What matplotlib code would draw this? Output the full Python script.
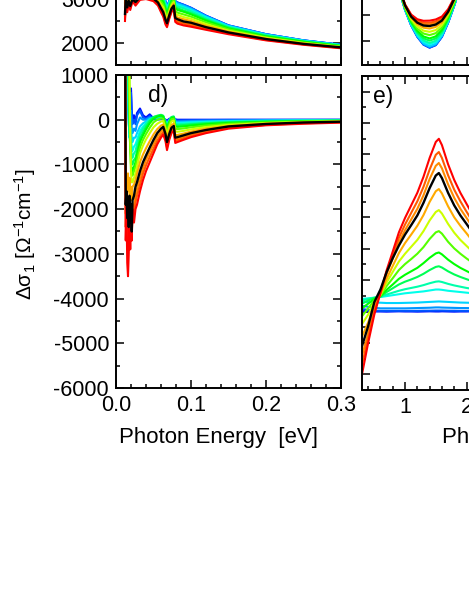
import matplotlib
matplotlib.use("Agg")
import matplotlib.pyplot as plt
from matplotlib.ticker import MultipleLocator, FormatStrFormatter, NullFormatter

plt.rcParams['font.family'] = ['Liberation Sans', 'DejaVu Sans']
plt.rcParams['mathtext.fontset'] = 'custom'
plt.rcParams['mathtext.rm'] = 'Liberation Sans'
plt.rcParams['mathtext.it'] = 'Liberation Sans:italic'
plt.rcParams['mathtext.sf'] = 'Liberation Sans'
plt.rcParams['axes.unicode_minus'] = False

# ---------------- data ----------------
# 15 spectra, ordered from weakest (blue) to strongest (red); index 11 is the black one
curve_colors = ['#0010ff', '#0055ff', '#0095ff', '#00d4ff', '#00ffea', '#00ffaa', '#00ff55',
                '#00ff00', '#55ff00', '#ccff00', '#ffaa00', '#000000', '#ff8c00', '#ff5a00', '#ff0000']
black_index = 11

# panel a (top left, sigma_1, low energy) -- only lower part visible
energy_a = [0.012, 0.013, 0.015, 0.017, 0.019, 0.022, 0.026, 0.032, 0.040, 0.050, 0.056, 0.060, 0.063,
            0.066, 0.068, 0.071, 0.074, 0.077, 0.079, 0.082, 0.090, 0.100, 0.120, 0.150, 0.200, 0.250, 0.300]
a_c0 = [3300, 3300, 3250, 3200, 3200, 3200, 3250, 3300, 3300, 3250, 3200, 3150, 3100, 2950, 2820, 2950, 3080, 3150, 2950, 2920, 2870, 2800, 2620, 2400, 2200, 2060, 1960]
a_c1 = [3290, 3300, 3240, 3200, 3200, 3200, 3250, 3300, 3300, 3250, 3200, 3150, 3100, 2940, 2820, 2950, 3080, 3150, 2950, 2920, 2870, 2800, 2620, 2400, 2200, 2060, 1960]
a_c2 = [3280, 3290, 3230, 3190, 3190, 3190, 3240, 3290, 3290, 3240, 3190, 3140, 3080, 2930, 2810, 2940, 3070, 3140, 2940, 2910, 2860, 2790, 2610, 2390, 2200, 2060, 1960]
a_c3 = [3240, 3280, 3210, 3180, 3170, 3180, 3220, 3280, 3280, 3230, 3180, 3120, 3070, 2910, 2790, 2920, 3050, 3120, 2920, 2890, 2840, 2770, 2600, 2390, 2190, 2050, 1950]
a_c4 = [3200, 3260, 3180, 3160, 3140, 3170, 3200, 3260, 3260, 3210, 3160, 3090, 3040, 2880, 2760, 2900, 3030, 3100, 2890, 2860, 2810, 2740, 2580, 2370, 2180, 2050, 1950]
a_c5 = [3160, 3240, 3150, 3150, 3120, 3160, 3180, 3240, 3250, 3200, 3140, 3070, 3010, 2860, 2740, 2880, 3010, 3080, 2870, 2830, 2790, 2720, 2560, 2360, 2180, 2040, 1950]
a_c6 = [3080, 3200, 3100, 3120, 3080, 3130, 3140, 3210, 3220, 3170, 3110, 3030, 2970, 2810, 2700, 2840, 2980, 3050, 2820, 2790, 2740, 2680, 2530, 2350, 2160, 2030, 1940]
a_c7 = [3020, 3180, 3060, 3100, 3040, 3110, 3110, 3190, 3200, 3150, 3080, 2990, 2930, 2760, 2660, 2810, 2950, 3020, 2790, 2750, 2710, 2650, 2510, 2330, 2150, 2030, 1930]
a_c8 = [2920, 3140, 2990, 3060, 2990, 3080, 3060, 3150, 3160, 3110, 3040, 2940, 2870, 2700, 2600, 2760, 2900, 2980, 2730, 2690, 2650, 2600, 2470, 2310, 2130, 2010, 1920]
a_c9 = [2830, 3090, 2930, 3020, 2930, 3050, 3010, 3110, 3120, 3070, 2990, 2880, 2810, 2640, 2550, 2710, 2860, 2930, 2670, 2640, 2590, 2550, 2430, 2280, 2120, 2000, 1910]
a_c10 = [2730, 3050, 2860, 2990, 2880, 3020, 2970, 3070, 3090, 3040, 2950, 2830, 2750, 2570, 2490, 2670, 2810, 2890, 2620, 2580, 2540, 2500, 2390, 2260, 2100, 1990, 1900]
a_c11 = [2660, 3020, 2810, 2960, 2840, 3000, 2930, 3040, 3060, 3010, 2920, 2790, 2700, 2530, 2450, 2630, 2780, 2850, 2570, 2540, 2490, 2460, 2360, 2240, 2090, 1980, 1900]
a_c12 = [2610, 3000, 2780, 2940, 2810, 2990, 2910, 3030, 3040, 2990, 2900, 2760, 2670, 2490, 2420, 2610, 2750, 2830, 2550, 2510, 2470, 2430, 2350, 2230, 2080, 1970, 1890]
a_c13 = [2560, 2980, 2740, 2920, 2790, 2970, 2880, 3010, 3020, 2970, 2880, 2740, 2640, 2460, 2400, 2580, 2730, 2810, 2520, 2480, 2440, 2400, 2330, 2220, 2070, 1970, 1890]
a_c14 = [2500, 2950, 2700, 2900, 2750, 2950, 2850, 2980, 3000, 2950, 2850, 2700, 2600, 2420, 2360, 2550, 2700, 2780, 2480, 2440, 2400, 2370, 2300, 2200, 2060, 1960, 1880]

# panel d (bottom left, delta sigma_1, low energy)
energy_d = [0.012, 0.013, 0.014, 0.015, 0.016, 0.017, 0.018, 0.019, 0.020, 0.021, 0.022, 0.024, 0.026, 0.028,
            0.032, 0.036, 0.040, 0.045, 0.050, 0.055, 0.060, 0.063, 0.066, 0.068, 0.071, 0.074, 0.077, 0.079,
            0.082, 0.090, 0.100, 0.120, 0.150, 0.200, 0.250, 0.300]
d_c0 = [3000, 3000, 2500, 1500, 800, 300, 100, 500, 700, 200, 0, 100, -50, 150, 250, 100, 50, 120, 30, 20, 30, 40, 0, -20, 20, 40, 50, 10, 0, 0, 0, 0, 0, 0, 0, 0]
d_c1 = [3000, 3000, 2000, 1200, 500, 200, 0, 300, 600, 100, -100, 0, -100, 100, 200, 50, 20, 80, 10, 0, 10, 20, -20, -40, 0, 20, 30, -10, -20, -15, -10, -8, -5, -5, -3, -3]
d_c2 = [3000, 3000, 2500, 1000, 300, -100, -300, 0, 200, -200, -300, -200, -250, -100, 50, 0, 0, 50, 30, 20, 40, 40, -30, -70, -10, 30, 40, -30, -40, -35, -30, -25, -18, -12, -8, -6]
d_c3 = [3000, 3000, 3000, 2000, 600, 0, -400, -300, -200, -400, -500, -400, -400, -300, -150, -80, -40, 20, 40, 40, 50, 40, -50, -100, -20, 40, 50, -50, -60, -55, -50, -40, -30, -20, -14, -10]
d_c4 = [3000, 3000, 3000, 2500, 1000, 200, -300, -500, -400, -600, -700, -600, -550, -450, -250, -150, -80, 0, 50, 60, 80, 60, -50, -120, -20, 50, 60, -70, -80, -75, -65, -50, -38, -26, -18, -14]
d_c5 = [3000, 3000, 3000, 3000, 1500, 400, -300, -600, -600, -800, -850, -750, -700, -550, -320, -200, -100, 0, 60, 80, 100, 80, -60, -140, -30, 60, 70, -90, -100, -95, -85, -65, -48, -32, -22, -17]
d_c6 = [3000, 3000, 3000, 3000, 2500, 800, 0, -700, -800, -1000, -1000, -900, -850, -700, -420, -280, -160, -30, 60, 90, 110, 90, -80, -170, -40, 60, 70, -120, -130, -120, -105, -80, -58, -40, -28, -21]
d_c7 = [3000, 3000, 3000, 3000, 3000, 1500, 300, -600, -1000, -1100, -1150, -1050, -950, -800, -500, -350, -220, -80, 20, 70, 90, 70, -100, -200, -60, 40, 50, -150, -160, -150, -130, -100, -72, -48, -33, -25]
d_c8 = [3000, 3000, 3000, 3000, 3000, 2000, 500, -400, -1100, -1200, -1250, -1150, -1050, -900, -620, -450, -320, -180, -60, 0, 30, 20, -150, -260, -100, 10, 20, -200, -210, -195, -170, -130, -92, -60, -41, -30]
d_c9 = [3000, 3000, 3000, 3000, 3000, 2500, 800, -300, -1200, -1400, -1400, -1300, -1200, -1050, -750, -580, -440, -300, -170, -90, -40, -30, -200, -330, -160, -40, -20, -260, -270, -250, -215, -165, -115, -75, -50, -36]
d_c10 = [3000, -1500, -1300, -1700, -1200, -1600, -1300, -1700, -1500, -1800, -1500, -1450, -1350, -1200, -950, -780, -640, -480, -330, -210, -130, -110, -270, -430, -260, -120, -90, -340, -340, -310, -265, -200, -140, -90, -60, -42]
d_c11 = [3000, -1900, -1600, -2200, -1800, -2400, -1700, -2300, -1900, -2500, -1800, -1700, -1500, -1400, -1150, -950, -800, -620, -450, -300, -200, -160, -320, -500, -320, -180, -140, -400, -390, -350, -300, -230, -150, -95, -62, -45]
d_c12 = [3000, -2100, -1800, -2500, -2000, -2600, -1900, -2500, -2000, -2600, -1900, -1900, -1700, -1550, -1300, -1080, -900, -720, -550, -380, -270, -220, -380, -560, -370, -220, -180, -440, -430, -385, -330, -255, -165, -105, -70, -50]
d_c13 = [3000, -2400, -1900, -2900, -2200, -2800, -2000, -2700, -2000, -2700, -1900, -2100, -1850, -1700, -1450, -1200, -1020, -830, -650, -470, -340, -280, -430, -620, -410, -260, -210, -480, -465, -415, -355, -275, -180, -115, -80, -57]
d_c14 = [3000, -2700, -2000, -3200, -3500, -3000, -2200, -2900, -2100, -2700, -2000, -2300, -2000, -1900, -1600, -1350, -1150, -950, -750, -550, -400, -330, -480, -680, -450, -300, -250, -520, -500, -450, -390, -300, -200, -125, -90, -65]

# panel b (top right, sigma_1 near the minimum) -- only lower part visible
energy_b = [0.8, 0.9, 1.0, 1.1, 1.2, 1.3, 1.4, 1.5, 1.6, 1.7, 1.8, 1.9, 2.0, 2.1]
b_c0 = [2400, 2000, 1600, 1300, 1080, 930, 871, 920, 1080, 1350, 1680, 2050, 2450, 2850]
b_c1 = [2400, 2000, 1601, 1301, 1082, 933, 874, 923, 1082, 1352, 1681, 2050, 2450, 2850]
b_c2 = [2401, 2001, 1602, 1305, 1088, 941, 883, 931, 1089, 1356, 1684, 2052, 2451, 2850]
b_c3 = [2402, 2003, 1606, 1312, 1100, 956, 901, 949, 1103, 1365, 1689, 2055, 2452, 2851]
b_c4 = [2403, 2007, 1613, 1326, 1123, 988, 937, 983, 1130, 1383, 1700, 2060, 2455, 2853]
b_c5 = [2405, 2009, 1618, 1336, 1139, 1010, 962, 1006, 1148, 1396, 1707, 2064, 2457, 2854]
b_c6 = [2407, 2014, 1627, 1354, 1168, 1050, 1007, 1049, 1182, 1418, 1721, 2070, 2461, 2855]
b_c7 = [2409, 2018, 1636, 1371, 1196, 1087, 1049, 1089, 1214, 1439, 1733, 2077, 2464, 2857]
b_c8 = [2412, 2024, 1648, 1397, 1237, 1143, 1113, 1150, 1262, 1471, 1753, 2086, 2469, 2860]
b_c9 = [2415, 2031, 1661, 1422, 1278, 1198, 1176, 1210, 1309, 1503, 1772, 2096, 2474, 2862]
b_c10 = [2418, 2037, 1674, 1448, 1320, 1255, 1240, 1271, 1357, 1535, 1791, 2105, 2480, 2865]
b_c11 = [2421, 2042, 1683, 1467, 1351, 1297, 1288, 1316, 1393, 1559, 1805, 2113, 2483, 2867]
b_c12 = [2422, 2045, 1689, 1479, 1371, 1323, 1318, 1345, 1415, 1574, 1814, 2117, 2486, 2868]
b_c13 = [2424, 2048, 1696, 1492, 1392, 1352, 1351, 1376, 1440, 1590, 1824, 2122, 2488, 2869]
b_c14 = [2426, 2052, 1704, 1508, 1418, 1388, 1391, 1414, 1470, 1610, 1836, 2128, 2492, 2871]

# panel e (bottom right, delta sigma_1, high energy)
energy_e = [0.3, 0.4, 0.5, 0.6, 0.7, 0.8, 0.9, 1.0, 1.1, 1.2, 1.3, 1.4, 1.5, 1.55, 1.6, 1.7, 1.8, 1.9, 2.0, 2.1, 2.2]
e_c0 = [20, 10, 0, 0, -5, 0, 5, 0, 0, -5, 0, 5, 0, 0, 5, 0, -5, 0, 0, 5, 0]
e_c1 = [80, 50, 30, 20, 20, 20, 20, 20, 20, 20, 25, 25, 30, 30, 30, 25, 25, 20, 20, 20, 20]
e_c2 = [180, 150, 120, 100, 100, 100, 100, 100, 105, 110, 115, 120, 130, 130, 125, 120, 115, 110, 110, 105, 100]
e_c3 = [300, 300, 290, 280, 270, 270, 270, 275, 280, 285, 295, 305, 315, 320, 315, 305, 295, 285, 280, 275, 270]
e_c4 = [400, 420, 440, 460, 490, 520, 550, 580, 600, 620, 640, 670, 700, 700, 690, 660, 640, 620, 600, 580, 570]
e_c5 = [350, 400, 440, 470, 540, 600, 660, 710, 750, 790, 840, 900, 950, 960, 940, 880, 830, 790, 750, 720, 680]
e_c6 = [250, 350, 430, 480, 620, 740, 860, 950, 1020, 1100, 1200, 1320, 1420, 1440, 1400, 1280, 1180, 1100, 1030, 960, 910]
e_c7 = [100, 250, 400, 490, 690, 860, 1040, 1170, 1280, 1390, 1540, 1710, 1850, 1880, 1820, 1650, 1510, 1390, 1290, 1190, 1110]
e_c8 = [-150, 100, 350, 510, 810, 1060, 1320, 1510, 1670, 1840, 2050, 2310, 2520, 2560, 2480, 2220, 2010, 1840, 1690, 1550, 1420]
e_c9 = [-400, -100, 300, 530, 920, 1260, 1590, 1840, 2060, 2280, 2560, 2900, 3170, 3230, 3120, 2790, 2510, 2280, 2090, 1900, 1730]
e_c10 = [-800, -350, 200, 550, 1040, 1450, 1860, 2180, 2450, 2730, 3070, 3490, 3830, 3900, 3760, 3350, 3000, 2730, 2490, 2240, 2040]
e_c11 = [-1100, -470, 300, 700, 1250, 1700, 2100, 2450, 2750, 3060, 3460, 3930, 4330, 4410, 4250, 3780, 3380, 3060, 2790, 2510, 2270]
e_c12 = [-1400, -700, 100, 600, 1200, 1690, 2200, 2590, 2930, 3270, 3700, 4220, 4640, 4730, 4560, 4050, 3620, 3270, 2980, 2680, 2420]
e_c13 = [-1700, -850, 0, 590, 1240, 1790, 2350, 2770, 3140, 3510, 3970, 4520, 4990, 5080, 4890, 4340, 3880, 3510, 3180, 2860, 2580]
e_c14 = [-2000, -1000, -100, 600, 1310, 1910, 2520, 2980, 3380, 3780, 4290, 4890, 5400, 5500, 5300, 4690, 4190, 3780, 3430, 3080, 2770]

a_curves = [a_c0, a_c1, a_c2, a_c3, a_c4, a_c5, a_c6, a_c7, a_c8, a_c9, a_c10, a_c11, a_c12, a_c13, a_c14]
d_curves = [d_c0, d_c1, d_c2, d_c3, d_c4, d_c5, d_c6, d_c7, d_c8, d_c9, d_c10, d_c11, d_c12, d_c13, d_c14]
b_curves = [b_c0, b_c1, b_c2, b_c3, b_c4, b_c5, b_c6, b_c7, b_c8, b_c9, b_c10, b_c11, b_c12, b_c13, b_c14]
e_curves = [e_c0, e_c1, e_c2, e_c3, e_c4, e_c5, e_c6, e_c7, e_c8, e_c9, e_c10, e_c11, e_c12, e_c13, e_c14]

xlabel_text = 'Photon Energy  [eV]'
ylabel_text = 'Δσ$_1$ [Ω$^{-1}$cm$^{-1}$]'

# ---------------- figure ----------------
W, H = 469, 607
fig = plt.figure(figsize=(W / 100, H / 100), dpi=100)


def px_axes(left, top, right, bottom):
    return fig.add_axes([left / W, 1 - bottom / H, (right - left) / W, (bottom - top) / H])


def style(ax, xmaj, xmin, ymaj, ymin):
    ax.xaxis.set_major_locator(MultipleLocator(xmaj))
    ax.xaxis.set_minor_locator(MultipleLocator(xmin))
    ax.yaxis.set_major_locator(MultipleLocator(ymaj))
    ax.yaxis.set_minor_locator(MultipleLocator(ymin))
    ax.tick_params(which='both', direction='in', top=True, right=True, width=1.1,
                   labelsize=15.5, pad=5)
    ax.tick_params(which='major', length=5.5)
    ax.tick_params(which='minor', length=3)
    for s in ax.spines.values():
        s.set_linewidth(1.4)


def draw(ax, x, curves):
    for i, ys in enumerate(curves):
        if i == black_index:
            continue
        ax.plot(x, ys, color=curve_colors[i], lw=1.5, zorder=2)
    ax.plot(x, curves[black_index], color='k', lw=1.7, zorder=3)


# panel a (top-left)
ax_a = px_axes(116, -248, 341, 65)
draw(ax_a, energy_a, a_curves)
ax_a.set_xlim(0.0, 0.3)
ax_a.set_ylim(1500, 1500 + 313 / 44.0 * 1000)
style(ax_a, 0.1, 0.02, 1000, 500)
ax_a.xaxis.set_major_formatter(NullFormatter())

# panel b (top-right)
ax_b = px_axes(362, -248, 528, 65)
draw(ax_b, energy_b, b_curves)
ax_b.set_xlim(0.3, 3.0)
ax_b.set_ylim(538, 538 + 313 / 26.0 * 500)
style(ax_b, 1, 0.2, 500, 500)
ax_b.xaxis.set_major_formatter(NullFormatter())
ax_b.yaxis.set_major_formatter(NullFormatter())

# panel d (bottom-left)
ax_d = px_axes(116, 75, 341, 388)
draw(ax_d, energy_d, d_curves)
ax_d.set_xlim(0.0, 0.3)
ax_d.set_ylim(-6000, 1000)
style(ax_d, 0.1, 0.02, 1000, 500)
ax_d.xaxis.set_major_formatter(FormatStrFormatter('%.1f'))
ax_d.yaxis.set_major_formatter(FormatStrFormatter('%d'))
ax_d.text(0.14, 0.935, 'd)', transform=ax_d.transAxes, fontsize=16.5, ha='left', va='center')

# panel e (bottom-right)
ax_e = px_axes(362, 76, 528, 390)
draw(ax_e, energy_e, e_curves)
ax_e.set_xlim(0.3, 3.0)
ax_e.set_ylim(-2500, 7500)
style(ax_e, 1, 0.2, 1000, 500)
ax_e.xaxis.set_major_formatter(FormatStrFormatter('%d'))
ax_e.yaxis.set_major_formatter(NullFormatter())
ax_e.text(0.066, 0.935, 'e)', transform=ax_e.transAxes, fontsize=16.5, ha='left', va='center')

# axis labels
fig.text(218.5 / W, 1 - 438 / H, xlabel_text, fontsize=16, ha='center', va='center')
fig.text(442 / W, 1 - 438 / H, xlabel_text, fontsize=16, ha='left', va='center')
fig.text(25 / W, 1 - 234 / H, ylabel_text, fontsize=15, rotation=90, ha='center', va='center')

fig.savefig('out.png', dpi=100)
